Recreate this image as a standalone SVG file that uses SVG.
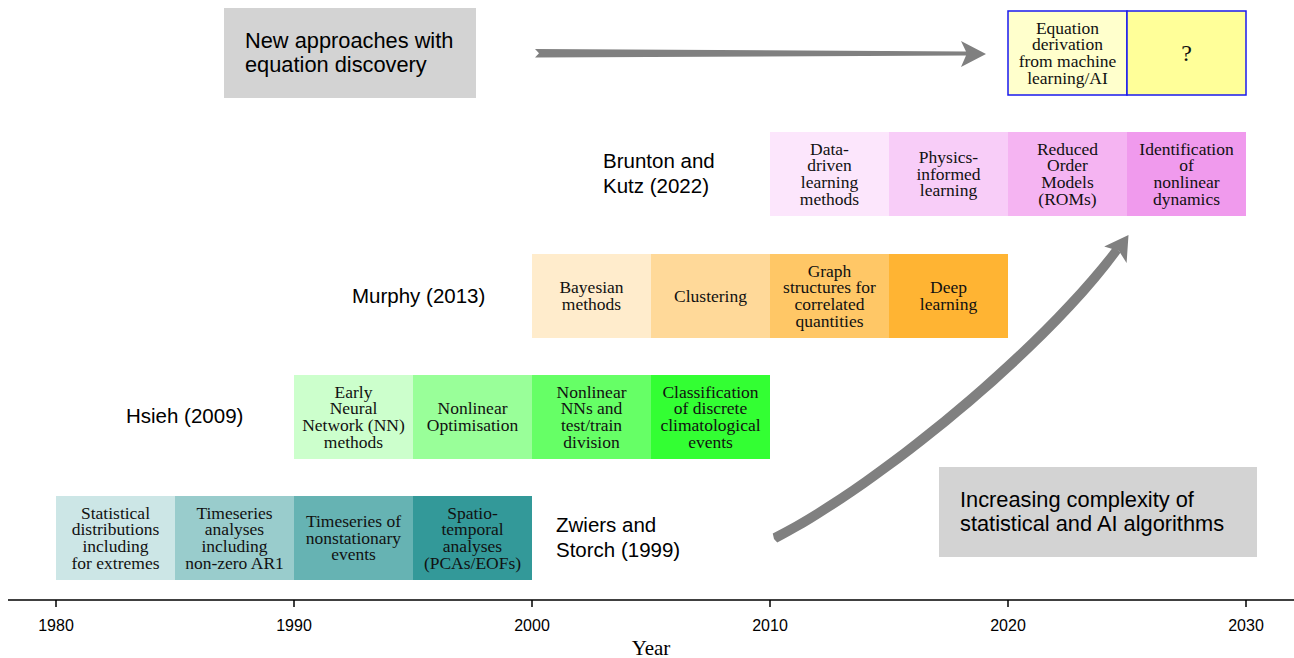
<svg xmlns="http://www.w3.org/2000/svg" width="1294" height="658" viewBox="0 0 1294 658">
<style>
.bt{font-family:"Liberation Serif","Times New Roman",serif;font-size:17.5px;fill:#111;text-anchor:middle}
.lb{font-family:"Liberation Sans",Arial,sans-serif;font-size:20.5px;fill:#000}
.gb{font-family:"Liberation Sans",Arial,sans-serif;font-size:21.8px;fill:#000}
.tk{font-family:"Liberation Sans",Arial,sans-serif;font-size:16px;fill:#000;text-anchor:middle}
.ax{font-family:"Liberation Serif","Times New Roman",serif;font-size:21px;fill:#000;text-anchor:middle}
.arr{fill:#808080;stroke:none}
</style>
<rect width="1294" height="658" fill="#fff"/>

<!-- Axis -->
<g id="axis" stroke="#000" stroke-width="1.5">
<line x1="8" y1="600" x2="1294" y2="600"/>
<line x1="56" y1="600" x2="56" y2="607"/>
<line x1="294" y1="600" x2="294" y2="607"/>
<line x1="532" y1="600" x2="532" y2="607"/>
<line x1="770" y1="600" x2="770" y2="607"/>
<line x1="1008" y1="600" x2="1008" y2="607"/>
<line x1="1246" y1="600" x2="1246" y2="607"/>
</g>
<g id="axis-labels">
<text class="tk" x="56" y="631">1980</text>
<text class="tk" x="294" y="631">1990</text>
<text class="tk" x="532" y="631">2000</text>
<text class="tk" x="770" y="631">2010</text>
<text class="tk" x="1008" y="631">2020</text>
<text class="tk" x="1246" y="631">2030</text>
<text class="ax" x="651" y="655">Year</text>
</g>

<!-- Zwiers row -->
<g id="zwiers">
<text class="lb" x="556" y="532">Zwiers and</text>
<text class="lb" x="556" y="557">Storch (1999)</text>
</g>
<g id="z1"><rect x="56" y="496" width="119" height="84" fill="#cce6e6"/>
<text class="bt" x="115.5" y="518.5">Statistical<tspan x="115.5" y="535.2">distributions</tspan><tspan x="115.5" y="551.9">including</tspan><tspan x="115.5" y="568.6">for extremes</tspan></text></g>
<g id="z2"><rect x="175" y="496" width="119" height="84" fill="#99cccc"/>
<text class="bt" x="234.5" y="518.5">Timeseries<tspan x="234.5" y="535.2">analyses</tspan><tspan x="234.5" y="551.9">including</tspan><tspan x="234.5" y="568.6">non-zero AR1</tspan></text></g>
<g id="z3"><rect x="294" y="496" width="119" height="84" fill="#66b3b3"/>
<text class="bt" x="353.5" y="526.8">Timeseries of<tspan x="353.5" y="543.5">nonstationary</tspan><tspan x="353.5" y="560.2">events</tspan></text></g>
<g id="z4"><rect x="413" y="496" width="119" height="84" fill="#339999"/>
<text class="bt" x="472.5" y="518.5">Spatio-<tspan x="472.5" y="535.2">temporal</tspan><tspan x="472.5" y="551.9">analyses</tspan><tspan x="472.5" y="568.6">(PCAs/EOFs)</tspan></text></g>

<!-- Hsieh row -->
<g id="hsieh"><text class="lb" x="126" y="423">Hsieh (2009)</text></g>
<g id="h1"><rect x="294" y="375" width="119" height="84" fill="#ccffcc"/>
<text class="bt" x="353.5" y="397.5">Early<tspan x="353.5" y="414.2">Neural</tspan><tspan x="353.5" y="430.9">Network (NN)</tspan><tspan x="353.5" y="447.6">methods</tspan></text></g>
<g id="h2"><rect x="413" y="375" width="119" height="84" fill="#99ff99"/>
<text class="bt" x="472.5" y="414.2">Nonlinear<tspan x="472.5" y="430.9">Optimisation</tspan></text></g>
<g id="h3"><rect x="532" y="375" width="119" height="84" fill="#66ff66"/>
<text class="bt" x="591.5" y="397.5">Nonlinear<tspan x="591.5" y="414.2">NNs and</tspan><tspan x="591.5" y="430.9">test/train</tspan><tspan x="591.5" y="447.6">division</tspan></text></g>
<g id="h4"><rect x="651" y="375" width="119" height="84" fill="#33ff33"/>
<text class="bt" x="710.5" y="397.5">Classification<tspan x="710.5" y="414.2">of discrete</tspan><tspan x="710.5" y="430.9">climatological</tspan><tspan x="710.5" y="447.6">events</tspan></text></g>

<!-- Murphy row -->
<g id="murphy"><text class="lb" x="352" y="303">Murphy (2013)</text></g>
<g id="m1"><rect x="532" y="254" width="119" height="84" fill="#ffeccc"/>
<text class="bt" x="591.5" y="293.2">Bayesian<tspan x="591.5" y="309.9">methods</tspan></text></g>
<g id="m2"><rect x="651" y="254" width="119" height="84" fill="#ffd999"/>
<text class="bt" x="710.5" y="301.5">Clustering</text></g>
<g id="m3"><rect x="770" y="254" width="119" height="84" fill="#ffc766"/>
<text class="bt" x="829.5" y="276.5">Graph<tspan x="829.5" y="293.2">structures for</tspan><tspan x="829.5" y="309.9">correlated</tspan><tspan x="829.5" y="326.6">quantities</tspan></text></g>
<g id="m4"><rect x="889" y="254" width="119" height="84" fill="#ffb433"/>
<text class="bt" x="948.5" y="293.2">Deep<tspan x="948.5" y="309.9">learning</tspan></text></g>

<!-- Brunton row -->
<g id="brunton">
<text class="lb" x="603" y="168">Brunton and</text>
<text class="lb" x="603" y="193">Kutz (2022)</text>
</g>
<g id="b1"><rect x="770" y="132" width="119" height="84" fill="#fce6fc"/>
<text class="bt" x="829.5" y="154.5">Data-<tspan x="829.5" y="171.2">driven</tspan><tspan x="829.5" y="187.9">learning</tspan><tspan x="829.5" y="204.6">methods</tspan></text></g>
<g id="b2"><rect x="889" y="132" width="119" height="84" fill="#f8cdf8"/>
<text class="bt" x="948.5" y="162.8">Physics-<tspan x="948.5" y="179.5">informed</tspan><tspan x="948.5" y="196.2">learning</tspan></text></g>
<g id="b3"><rect x="1008" y="132" width="119" height="84" fill="#f5b4f2"/>
<text class="bt" x="1067.5" y="154.5">Reduced<tspan x="1067.5" y="171.2">Order</tspan><tspan x="1067.5" y="187.9">Models</tspan><tspan x="1067.5" y="204.6">(ROMs)</tspan></text></g>
<g id="b4"><rect x="1127" y="132" width="119" height="84" fill="#f09aed"/>
<text class="bt" x="1186.5" y="154.5">Identification<tspan x="1186.5" y="171.2">of</tspan><tspan x="1186.5" y="187.9">nonlinear</tspan><tspan x="1186.5" y="204.6">dynamics</tspan></text></g>

<!-- Top row -->
<g id="t1"><rect x="1008" y="11" width="119" height="84" fill="#ffffcc" stroke="#1a1aee" stroke-width="1.5"/>
<text class="bt" x="1067.5" y="33.5">Equation<tspan x="1067.5" y="50.2">derivation</tspan><tspan x="1067.5" y="66.9">from machine</tspan><tspan x="1067.5" y="83.6">learning/AI</tspan></text></g>
<g id="t2"><rect x="1127" y="11" width="119" height="84" fill="#ffff99" stroke="#1a1aee" stroke-width="1.5"/>
<text class="bt" x="1186.5" y="61" style="font-size:24px">?</text></g>

<!-- Gray label boxes -->
<g id="new-approaches"><rect x="224" y="8" width="252" height="90" fill="#d3d3d3"/>
<text class="gb" x="245" y="48">New approaches with</text>
<text class="gb" x="245" y="72">equation discovery</text></g>
<g id="increasing"><rect x="939" y="467" width="318" height="90" fill="#d3d3d3"/>
<text class="gb" x="960" y="507">Increasing complexity of</text>
<text class="gb" x="960" y="531">statistical and AI algorithms</text></g>

<!-- Connectors -->
<g id="connectors">
<polygon class="arr" points="535,49 966,51.5 961,41 986,54 961,67 966,55.5 535,57.5 539,53.3"/>
<path class="arr" d="M772.75,533.5 C868,486 1035,350 1113.6,246.6 L1120.6,252.6 C1044,358 872,494 777.25,542.5 L774,539 Z"/>
<polygon class="arr" points="1128.5,235 1126.6,263 1119,251 1104.2,246.6"/>
</g>
</svg>
